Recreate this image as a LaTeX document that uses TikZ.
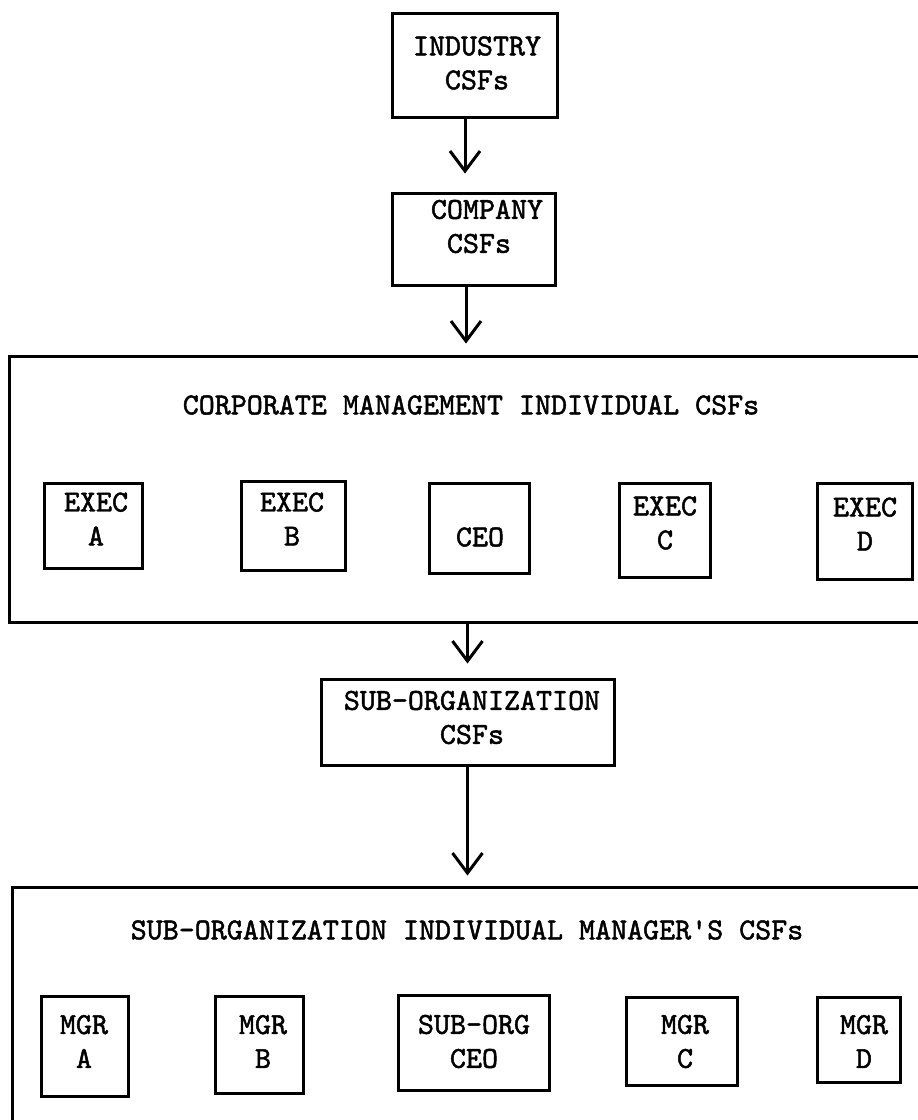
\documentclass[tikz,border=0pt]{standalone}
\usepackage{fontspec}
\setmonofont[FakeBold=1.6]{lmmono10-regular.otf}
\usetikzlibrary{arrows.meta}
\newcommand{\csffont}{\ttfamily\fontsize{30.5}{34}\selectfont}
\begin{document}
\begin{tikzpicture}[x=1pt,y=-1pt,
  frame/.style={draw, line width=3pt, inner sep=0pt, fill=none},
  label/.style={font=\csffont, align=center, inner sep=0pt},
  flow/.style={line width=3pt, -{Straight Barb[length=20pt,width=30pt,line width=3pt]}},
]
\useasboundingbox (0,0) rectangle (918,1120);
\clip (0,0) rectangle (918,1120);

% top chain
\node[frame, minimum width=165pt, minimum height=104pt] (ind) at (474.5,65) {};
\node[label] (indt) at (477,63) {INDUSTRY\\CSFs};

\node[frame, minimum width=163pt, minimum height=92pt] (com) at (473.5,239) {};
\node[label] (comt) at (479,226.5) {~COMPANY\\CSFs};

% corporate management group
\node[frame, minimum width=930pt, minimum height=266pt] (corp) at (474,489) {};
\node[label] (corpt) at (471,405) {CORPORATE MANAGEMENT INDIVIDUAL CSFs};

\node[frame, minimum width=98pt, minimum height=85pt] (ea) at (93,525.5) {};
\node[label] (eat) at (96,519) {EXEC\\A};
\node[frame, minimum width=104pt, minimum height=89pt] (eb) at (293,525.5) {};
\node[label] (ebt) at (292,519) {EXEC\\B};
\node[frame, minimum width=100pt, minimum height=90pt] (ceo) at (479,528) {};
\node[label] (ceot) at (480,537) {CEO};
\node[frame, minimum width=91pt, minimum height=94pt] (ec) at (664.5,530) {};
\node[label] (ect) at (665,523) {EXEC\\C};
\node[frame, minimum width=95pt, minimum height=96pt] (ed) at (864.5,531) {};
\node[label] (edt) at (865,524) {EXEC\\D};

% sub-organization
\node[frame, minimum width=293pt, minimum height=86pt] (sub) at (467.5,722) {};
\node[label] (subt) at (472,717.5) {SUB-ORGANIZATION\\CSFs};

% sub-organization managers group
\node[frame, minimum width=920pt, minimum height=250pt] (mgrs) at (472,1012) {};
\node[label] (mgrst) at (467,930) {SUB-ORGANIZATION INDIVIDUAL MANAGER'S CSFs};

\node[frame, minimum width=87pt, minimum height=100pt] (ma) at (84.5,1046) {};
\node[label] (mat) at (84,1041.5) {MGR\\A};
\node[frame, minimum width=88pt, minimum height=97pt] (mb) at (259,1044.5) {};
\node[label] (mbt) at (263,1041.5) {MGR\\B};
\node[frame, minimum width=151pt, minimum height=95pt] (mc) at (473.5,1042.5) {};
\node[label] (mct) at (474,1041.5) {SUB-ORG\\CEO};
\node[frame, minimum width=111pt, minimum height=88pt] (mgc) at (681.5,1041) {};
\node[label] (mgct) at (685,1041.5) {MGR\\C};
\node[frame, minimum width=83pt, minimum height=85pt] (md) at (858.5,1039.5) {};
\node[label] (mdt) at (864,1041.5) {MGR\\D};

% connectors
\draw[flow, shorten >=18pt] ([xshift=-9.5pt]ind.south) -- ([xshift=-9.5pt]ind.south |- com.north);
\draw[flow, shorten >=11pt] ([xshift=-7.5pt]com.south) -- ([xshift=-7.5pt]com.south |- corp.north);
\draw[flow, shorten >=14pt] (sub.north |- corp.south) -- (sub.north);
\draw[flow, shorten >=10pt] (sub.south) -- (sub.south |- mgrs.north);
\end{tikzpicture}
\end{document}
